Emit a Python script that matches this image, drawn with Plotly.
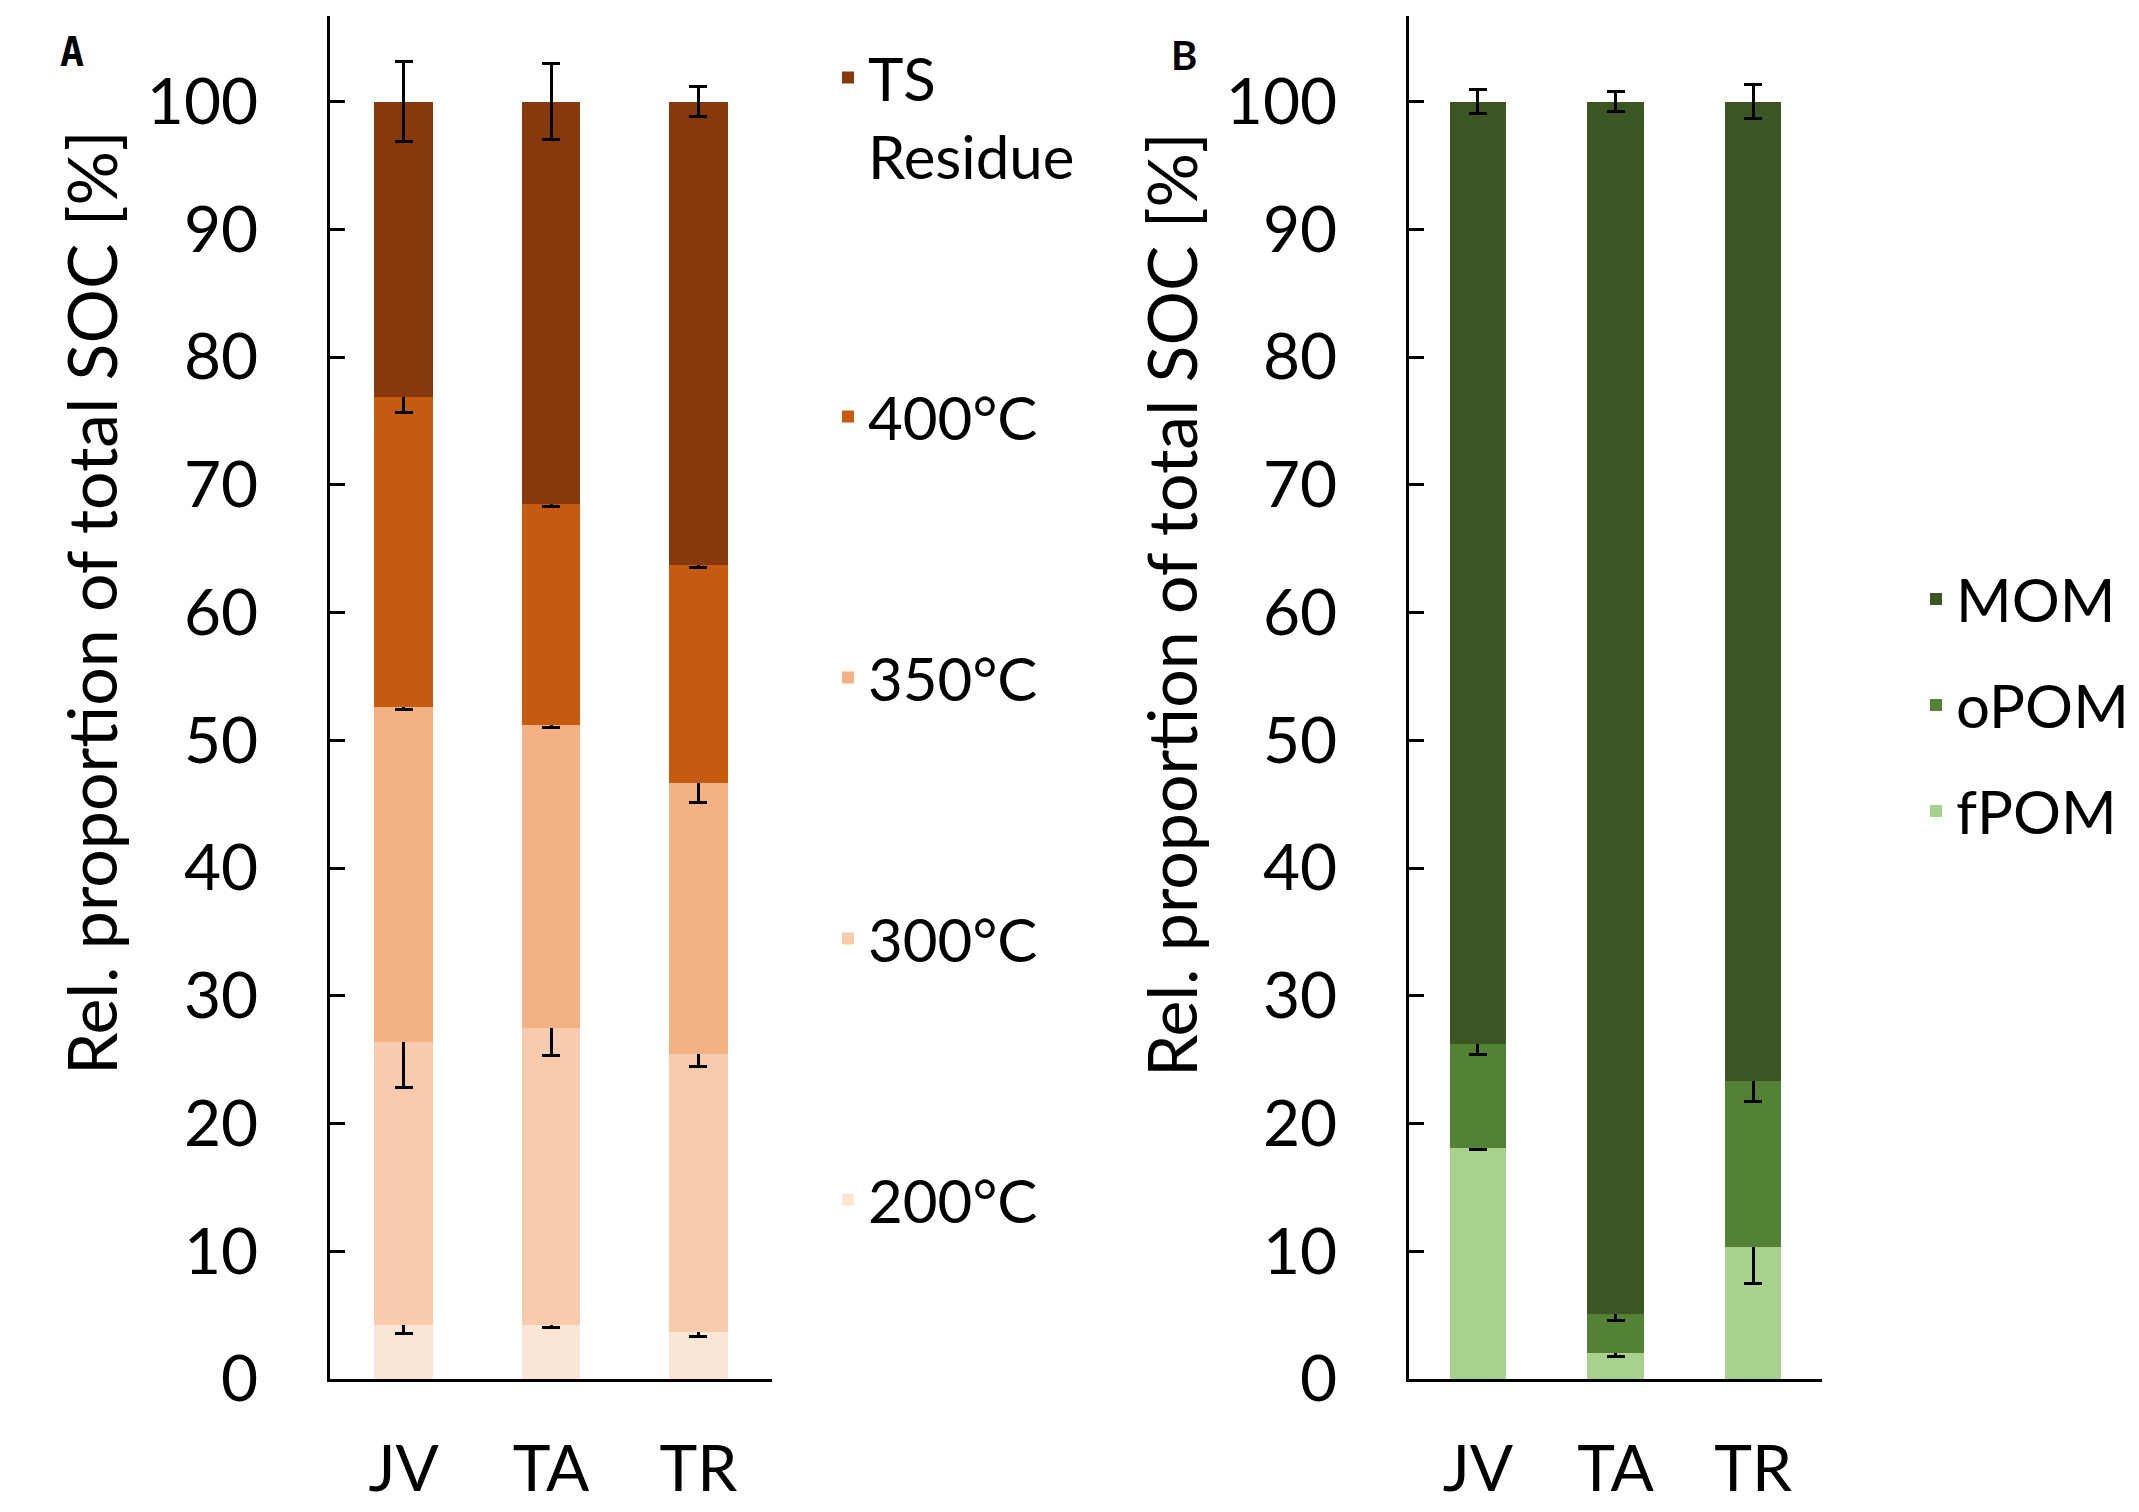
import plotly.graph_objects as go

# ---------------- data ----------------
sites = ["JV", "TA", "TR"]

# Panel A: thermal fractions (segment heights, % of total SOC)
a_names = ["200°C", "300°C", "350°C", "400°C", "TS<br>Residue"]
a_200 = [4.2, 4.2, 3.7]
a_300 = [22.15, 23.3, 21.75]
a_350 = [26.25, 23.7, 21.2]
a_400 = [24.3, 17.3, 17.05]
a_ts = [23.1, 31.5, 36.3]
a_err_200 = [0.6, 0.2, 0.4]
a_err_300 = [3.5, 2.2, 0.95]
a_err_350 = [0.2, 0.2, 1.5]
a_err_400 = [1.2, 0.2, 0.2]
a_err_ts = [3.1, 3.0, 1.2]
a_colors = ["#FBE5D6", "#F8CBAD", "#F4B183", "#C55A11", "#86390D"]

# Panel B: physical fractions
b_names = ["fPOM", "oPOM", "MOM"]
b_fpom = [18.1, 2.0, 10.3]
b_opom = [8.1, 3.05, 13.0]
b_mom = [73.8, 94.95, 76.7]
b_err_fpom = [0.1, 0.2, 2.85]
b_err_opom = [0.8, 0.5, 1.6]
b_err_mom = [0.95, 0.8, 1.35]
b_colors = ["#A9D18E", "#548235", "#3B5623"]

y_ticks = list(range(0, 101, 10))
y_title = "Rel. proportion of total SOC [%]"

FONT = "Lato, Carlito, Calibri, sans-serif"

fig = go.Figure()

a_vals = [a_200, a_300, a_350, a_400, a_ts]
a_errs = [a_err_200, a_err_300, a_err_350, a_err_400, a_err_ts]
n_a = len(a_names)
for i, (name, vals, errs, col) in enumerate(zip(a_names, a_vals, a_errs, a_colors)):
    fig.add_trace(go.Bar(
        x=sites, y=vals, name=name, marker=dict(color=col, line=dict(width=0)),
        width=0.4, xaxis="x", yaxis="y", legend="legend", legendgroup="a" + name,
        legendrank=n_a - i,
        error_y=dict(type="data", array=errs, color="black", thickness=3, width=9),
    ))

b_vals = [b_fpom, b_opom, b_mom]
b_errs = [b_err_fpom, b_err_opom, b_err_mom]
n_b = len(b_names)
for i, (name, vals, errs, col) in enumerate(zip(b_names, b_vals, b_errs, b_colors)):
    fig.add_trace(go.Bar(
        x=sites, y=vals, name=name, marker=dict(color=col, line=dict(width=0)),
        width=0.41, xaxis="x2", yaxis="y2", legend="legend2", legendgroup="b" + name,
        legendrank=n_b - i,
        error_y=dict(type="data", array=errs, color="black", thickness=3, width=9),
    ))

# page has an 8px body margin: figure drawn at (8, 8)
W, H = 2131, 1504
ydom = [(H - 1371) / H, (H - 8) / H]

def yaxis(anchor):
    return dict(
        anchor=anchor, domain=ydom, range=[0, 106.7], tickvals=y_ticks,
        ticks="inside", ticklen=15, tickwidth=3, tickcolor="black",
        showline=True, linewidth=3, linecolor="black", showgrid=False, zeroline=False,
        automargin=False,
        tickfont=dict(family=FONT, size=64, color="black"), ticklabelstandoff=56,
    )

def xaxis(anchor, dom):
    return dict(
        anchor=anchor, domain=dom, range=[-0.5, 2.5], type="category",
        showline=True, linewidth=3, linecolor="black", ticks="", showgrid=False,
        automargin=False,
        tickfont=dict(family=FONT, size=64, color="black"), ticklabelstandoff=32,
    )

fig.update_layout(
    width=W, height=H, barmode="stack",
    paper_bgcolor="white", plot_bgcolor="white",
    margin=dict(l=0, r=0, t=0, b=0, autoexpand=False),
    font=dict(family=FONT, color="black"),
    xaxis=xaxis("y", [322 / W, 764 / W]),
    yaxis=yaxis("x"),
    xaxis2=xaxis("y2", [1401 / W, 1814 / W]),
    yaxis2=yaxis("x2"),
    legend=dict(x=820 / W, y=1 - 24 / H, xanchor="left", yanchor="top",
                traceorder="grouped", tracegroupgap=180, valign="top",
                font=dict(family=FONT, size=60, color="black"), bgcolor="rgba(0,0,0,0)"),
    legend2=dict(x=1908 / W, y=1 - 697 / H, xanchor="left", yanchor="middle",
                 traceorder="grouped", tracegroupgap=25,
                 font=dict(family=FONT, size=60, color="black"), bgcolor="rgba(0,0,0,0)"),
    annotations=[
        dict(text=y_title, textangle=-90, x=83 / W, y=1 - 595 / H, xref="paper", yref="paper",
             xanchor="center", yanchor="middle", showarrow=False,
             font=dict(family=FONT, size=68, color="black")),
        dict(text=y_title, textangle=-90, x=1162 / W, y=1 - 597 / H, xref="paper", yref="paper",
             xanchor="center", yanchor="middle", showarrow=False,
             font=dict(family=FONT, size=68, color="black")),
        dict(text="<b>A</b>", x=64 / W, y=1 - 44 / H, xref="paper", yref="paper",
             xanchor="center", yanchor="middle", showarrow=False,
             font=dict(family="DejaVu Sans Mono", size=40, color="black")),
        dict(text="<b>B</b>", x=1176 / W, y=1 - 47 / H, xref="paper", yref="paper",
             xanchor="center", yanchor="middle", showarrow=False,
             font=dict(family=FONT, size=40, color="black")),
    ],
)

fig.write_html("out.html")
